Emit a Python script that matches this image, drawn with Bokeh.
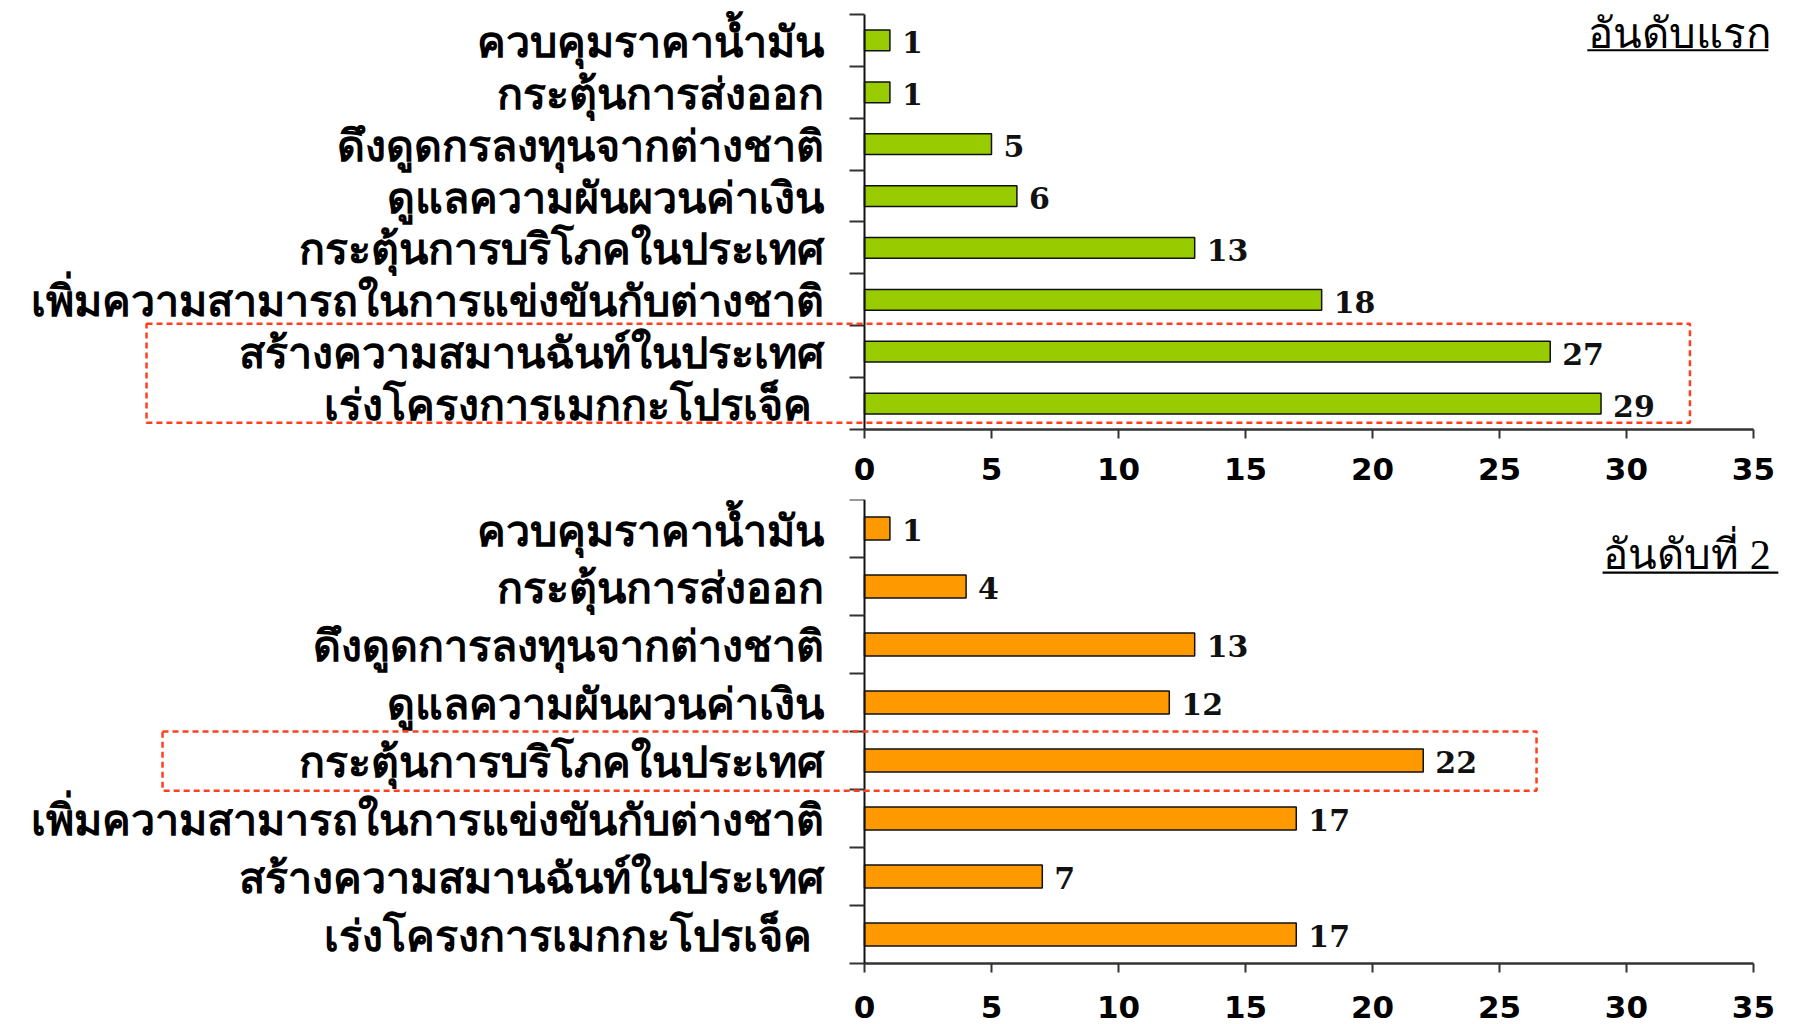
from bokeh.plotting import figure
from bokeh.models import Range1d, FixedTicker, BoxAnnotation, Label, ColumnDataSource
from bokeh.layouts import column
from bokeh.core.properties import value
from bokeh.embed import file_html
from bokeh.resources import INLINE

# ---------------- data ----------------
CATS_TOP = [
    "ควบคุมราคาน้ำมัน",
    "กระตุ้นการส่งออก",
    "ดึงดูดกรลงทุนจากต่างชาติ",
    "ดูแลความผันผวนค่าเงิน",
    "กระตุ้นการบริโภคในประเทศ",
    "เพิ่มความสามารถในการแข่งขันกับต่างชาติ",
    "สร้างความสมานฉันท์ในประเทศ",
    "เร่งโครงการเมกกะโปรเจ็ค ",
]
VALS_TOP = [1, 1, 5, 6, 13, 18, 27, 29]

CATS_BOT = [
    "ควบคุมราคาน้ำมัน",
    "กระตุ้นการส่งออก",
    "ดึงดูดการลงทุนจากต่างชาติ",
    "ดูแลความผันผวนค่าเงิน",
    "กระตุ้นการบริโภคในประเทศ",
    "เพิ่มความสามารถในการแข่งขันกับต่างชาติ",
    "สร้างความสมานฉันท์ในประเทศ",
    "เร่งโครงการเมกกะโปรเจ็ค ",
]
VALS_BOT = [1, 4, 13, 12, 22, 17, 7, 17]

TITLE_TOP = "อันดับแรก"
TITLE_BOT = "อันดับที่ 2"
X_TICKS = [0, 5, 10, 15, 20, 25, 30, 35]
HIGHLIGHT_TOP = [6, 7]   # indices (top-to-bottom) inside the red box
HIGHLIGHT_BOT = [4]

# visible x window (label area to the left of 0, title space to the right of 35)
X_START, X_END = -34.02, 36.46

GREEN = "#99CC00"
ORANGE = "#FF9900"
RED = "#FF4020"


def make_chart(cats, vals, color, title, highlight, box_left, box_right,
               pad_top, pad_bot, title_x, title_y, ul_left, ul_right, ul_y,
               frame_h, y_extra_top, y_extra_bot, standoff):
    n = len(cats)
    ypos = [n - 1 - i for i in range(n)]
    src = ColumnDataSource(dict(y=ypos, v=vals, t=[str(v) for v in vals]))

    p = figure(output_backend="svg", toolbar_location=None,
               x_range=Range1d(X_START, X_END),
               y_range=Range1d(-0.5 - y_extra_bot, n - 0.5 + y_extra_top),
               frame_width=1790, frame_height=frame_h,
               min_border_left=0, min_border_right=0,
               min_border_top=0, min_border_bottom=0)
    p.outline_line_color = None
    p.xgrid.grid_line_color = None
    p.ygrid.grid_line_color = None
    p.background_fill_color = "white"
    p.border_fill_color = "white"

    p.hbar(y="y", right="v", left=0, height=0.4, source=src,
           fill_color=color, line_color="#111111", line_width=1.5)
    p.text(x="v", y="y", text="t", source=src, x_offset=12, y_offset=2,
           text_baseline="middle", text_align="left",
           text_font=value("DejaVu Serif"), text_font_style="bold",
           text_font_size="30px", text_color="#111111")

    # x axis drawn at the bottom edge of the category band
    xa = p.xaxis[0]
    xa.fixed_location = -0.5
    xa.ticker = FixedTicker(ticks=X_TICKS)
    xa.bounds = (X_TICKS[0], X_TICKS[-1])
    xa.axis_line_color = "#333333"
    xa.axis_line_width = 2.5
    xa.major_tick_line_color = "#333333"
    xa.major_tick_line_width = 2
    xa.major_tick_out = 9
    xa.major_tick_in = 0
    xa.minor_tick_line_color = None
    xa.major_label_text_font = "DejaVu Sans"
    xa.major_label_text_font_style = "bold"
    xa.major_label_text_font_size = "31px"
    xa.major_label_text_color = "#000000"
    xa.major_label_standoff = standoff

    # y axis at x = 0 : labels at category centres, ticks at category boundaries
    ya = p.yaxis[0]
    ya.fixed_location = 0
    ya.bounds = (-0.5, n - 0.5)
    ya.ticker = FixedTicker(ticks=ypos, minor_ticks=[k - 0.5 for k in range(n + 1)])
    ya.major_label_overrides = {y: c for y, c in zip(ypos, cats)}
    ya.axis_line_color = "#111111"
    ya.axis_line_width = 2
    ya.major_tick_out = 0
    ya.major_tick_in = 0
    ya.minor_tick_out = 15
    ya.minor_tick_in = 0
    ya.minor_tick_line_color = "#333333"
    ya.minor_tick_line_width = 2
    ya.major_label_text_font = "Noto Sans"
    ya.major_label_text_font_style = "bold"
    ya.major_label_text_font_size = "43px"
    ya.major_label_text_color = "#000000"
    ya.major_label_standoff = 26

    # highlight box
    hy = [n - 1 - i for i in highlight]
    p.add_layout(BoxAnnotation(left=box_left, right=box_right,
                               bottom=min(hy) - pad_bot, top=max(hy) + pad_top,
                               fill_alpha=0, line_color=RED, line_alpha=1,
                               line_width=2.5, line_dash="6 4"))

    # title (underlined)
    p.add_layout(Label(x=title_x, y=title_y, text=title,
                       text_font="Liberation Serif", text_font_size="42px",
                       text_baseline="alphabetic", text_align="left",
                       text_color="#000000"))
    p.add_layout(BoxAnnotation(left=ul_left, right=ul_right,
                               top=ul_y + 0.02, bottom=ul_y - 0.02,
                               fill_color="#000000", fill_alpha=1,
                               line_color=None))
    return p


# top chart: frame 0..499 px, category band 0..429 px (51.875 px per category)
p1 = make_chart(CATS_TOP, VALS_TOP, GREEN, TITLE_TOP, HIGHLIGHT_TOP,
                -28.27, 32.5, 0.54, 0.37,
                28.5, 7.13, 28.46, 35.59, 6.81,
                499, 0.27, 1.35, 20)
# bottom chart: frame 499..1024 px, category band 499..963 px (58 px per category)
p2 = make_chart(CATS_BOT, VALS_BOT, ORANGE, TITLE_BOT, HIGHLIGHT_BOT,
                -27.64, 26.46, 0.5, 0.52,
                29.09, 6.55, 29.06, 35.98, 6.24,
                525, 0.0, 1.052, 24)

layout = column(p1, p2)
open("out.html", "w").write(file_html(layout, INLINE))
